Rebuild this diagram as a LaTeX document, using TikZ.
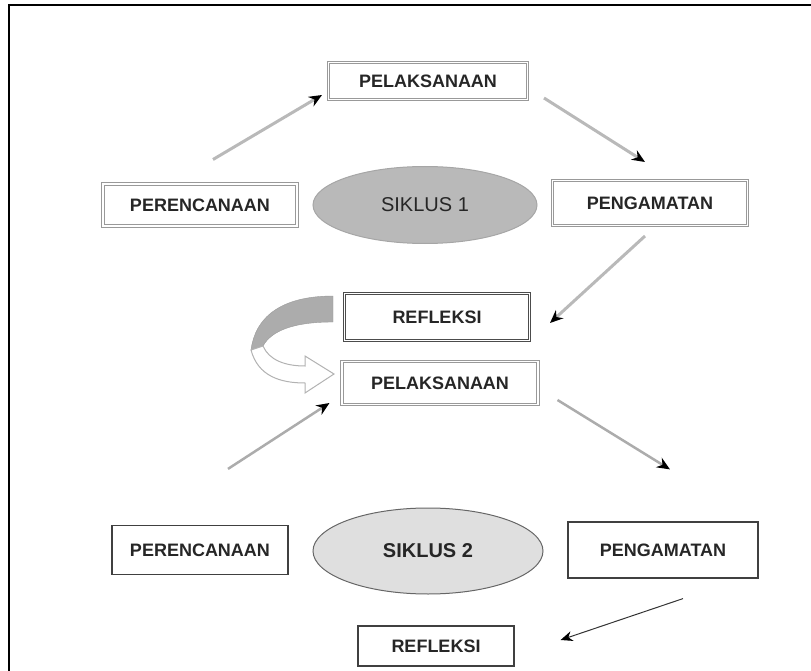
\documentclass[tikz,border=0pt]{standalone}
\usepackage{fontspec}
\setmainfont{Liberation Sans}
\usetikzlibrary{arrows.meta}
\usetikzlibrary{shapes.geometric}

\tikzset{
  boxA/.style={draw=gray!80, double=white, double distance=1.5pt, line width=1pt, fill=white, font=\fontsize{18}{20}\selectfont\bfseries, text=black!85},
  boxB/.style={draw=black!75, line width=1.2pt, fill=white, font=\fontsize{18}{20}\selectfont\bfseries, text=black!85},
  arrA/.style={draw=gray!55, line width=3pt, -{Stealth[black,length=13pt,width=11pt]}},
  arrB/.style={draw=gray!65, line width=2.5pt, -{Stealth[black,length=13pt,width=11pt]}},
  arrC/.style={draw=black!80, line width=1pt, -{Stealth[black,length=12pt,width=10pt]}}
}

\begin{document}
\begin{tikzpicture}[x=1pt, y=-1pt]
\useasboundingbox (0,0) rectangle (811,671);

% Frame
\draw [line width=2pt] (9,671) -- (9,5) -- (811,5);

% Siklus 1
\node [ellipse, draw=gray!70, line width=1pt, fill=gray!55, minimum width=224pt, minimum height=77pt, font=\fontsize{20}{22}\selectfont, text=black!85] (sik1) at (425,205) {SIKLUS 1};
\node [boxA, minimum width=199pt, minimum height=37pt] (pel1) at (428,81) {PELAKSANAAN};
\node [boxA, minimum width=194pt, minimum height=42pt] (per1) at (200,205) {PERENCANAAN};
\node [boxA, minimum width=195pt, minimum height=45pt] (peng1) at (650,203) {PENGAMATAN};
\node [boxA, draw=black!70, minimum width=185pt, minimum height=47pt] (ref1) at (437,317) {REFLEKSI};

\draw [arrA] ([xshift=13pt,yshift=24pt]per1.north) -- ([xshift=-6pt,yshift=5pt]pel1.south west);
\draw [arrA] ([xshift=16pt,yshift=2pt]pel1.south east) -- ([xshift=-5pt,yshift=18pt]peng1.north);
\draw [arrA] ([xshift=-5pt,yshift=-10pt]peng1.south) -- ([xshift=20pt,yshift=-6pt]ref1.east);

% Curved arrow
\draw [gray!80, fill=gray!65] (333,296) .. controls (280,296) and (255,318) .. (251,350)
  -- (263,346) .. controls (272,330) and (295,322) .. (333,322) -- cycle;
\draw [gray!60, line width=1pt, fill=white] (251,350) .. controls (258,376) and (280,383) .. (305,383)
  -- (305,393) -- (334,374) -- (305,356) -- (305,366) .. controls (285,366) and (269,360) .. (263,346) -- cycle;

% Siklus 2
\node [ellipse, draw=black!60, line width=1pt, fill=gray!25, minimum width=230pt, minimum height=86pt, font=\fontsize{20}{22}\selectfont\bfseries, text=black!85] (sik2) at (428,551) {SIKLUS 2};
\node [boxA, minimum width=196pt, minimum height=43pt] (pel2) at (440,383) {PELAKSANAAN};
\node [boxB, minimum width=176pt, minimum height=49pt] (per2) at (200,550) {PERENCANAAN};
\node [boxB, minimum width=190pt, minimum height=56pt] (peng2) at (663,550) {PENGAMATAN};
\node [boxB, minimum width=156pt, minimum height=40pt] (ref2) at (436,646) {REFLEKSI};

\draw [arrB] ([xshift=28pt,yshift=56pt]per2.north) -- ([xshift=-12pt,yshift=2pt]pel2.south west);
\draw [arrB] ([xshift=19pt,yshift=5pt]pel2.south east) -- ([xshift=7pt,yshift=52pt]peng2.north);
\draw [arrC] ([xshift=20pt,yshift=-20pt]peng2.south) -- ([xshift=46pt,yshift=6pt]ref2.east);

\end{tikzpicture}
\end{document}
